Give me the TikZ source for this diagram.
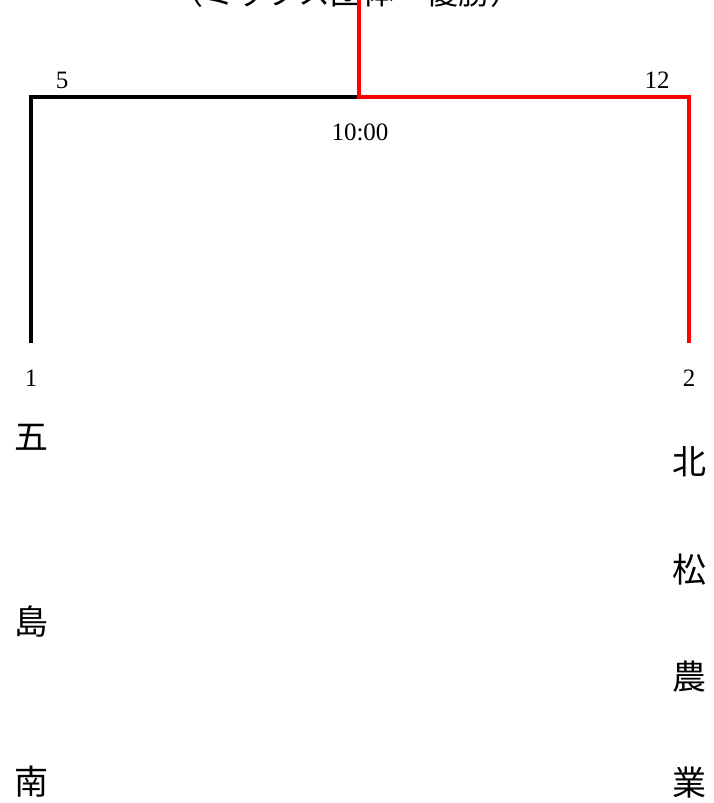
\documentclass[tikz,border=0pt]{standalone}
\usepackage{fontspec}
\setmainfont{Liberation Serif}
\newfontfamily\cjk{Noto Sans CJK JP}
\begin{document}
\begin{tikzpicture}[x=1pt,y=-1pt,
  team/.style={font=\cjk\fontsize{34}{34}\selectfont, inner sep=0pt},
  ttl/.style={font=\cjk\fontsize{32}{32}\selectfont, inner sep=0pt},
  num/.style={font=\fontsize{25}{25}\selectfont, inner sep=0pt},
  blk/.style={line width=4pt, black},
  win/.style={line width=4pt, red}]
\useasboundingbox (0,0) rectangle (713,803);
\clip (0,0) rectangle (713,803);
% title (cut off at top, as in the reference)
\node[ttl, anchor=base] (title) at (347,5) {（ミックス団体　優勝）};
% bracket points
\coordinate (top) at (359,0);
\coordinate (mid) at (359,97);
\coordinate (lc) at (31,97);
\coordinate (rc) at (689,97);
\coordinate (lb) at (31,343);
\coordinate (rb) at (689,343);
\draw[blk] (lb) -- (lc) -- (mid);
\draw[win] (rb) -- (rc) -- (mid) -- (top);
% scores
\node[num] (s1) at (62,80) {5};
\node[num] (s2) at (657,80) {12};
\node[num] (time) at (360,132) {10:00};
\node[num] (n1) at (31,378) {1};
\node[num] (n2) at (689,378) {2};
% teams
\node[team] (a1) at (31,437) {五};
\node[team] (a2) at (31,622) {島};
\node[team] (a3) at (31,782) {南};
\node[team] (b1) at (689,462) {北};
\node[team] (b2) at (689,570) {松};
\node[team] (b3) at (689,677) {農};
\node[team] (b4) at (689,783) {業};
\end{tikzpicture}
\end{document}
